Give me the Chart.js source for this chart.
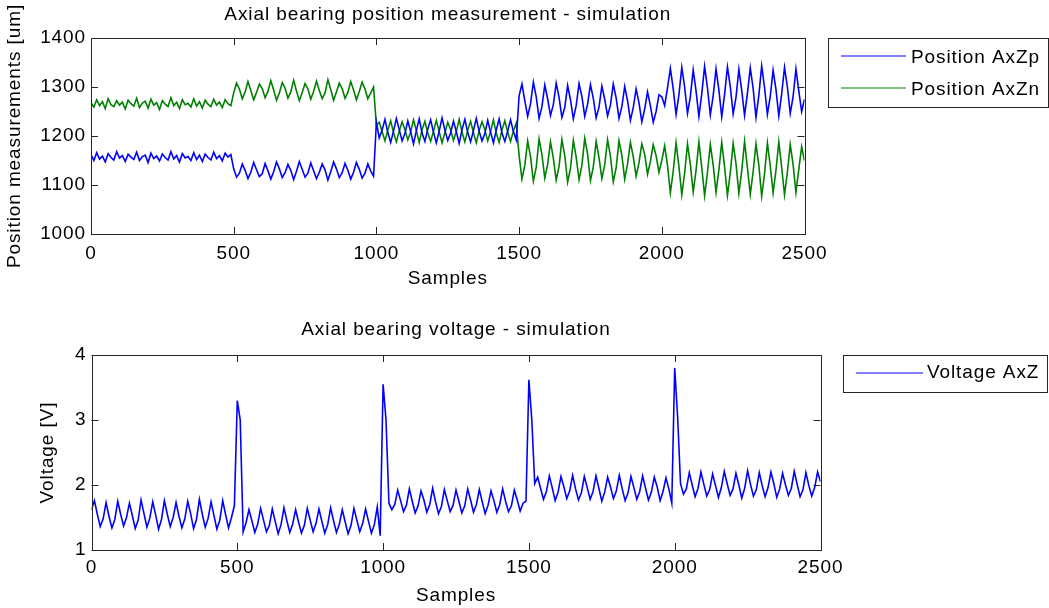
<!DOCTYPE html>
<html>
<head>
<meta charset="utf-8">
<title>Axial bearing simulation</title>
<script src="https://cdn.jsdelivr.net/npm/chart.js@4.4.1/dist/chart.umd.min.js"></script>
<style>
  html, body { margin: 0; padding: 0; background: #fff; }
  #wrap { position: relative; width: 1049px; height: 608px; overflow: hidden; }
  canvas { position: absolute; left: 0; }
  #posChart { top: 0; }
  #voltChart { top: 300px; }
</style>
</head>
<body>
<div id="wrap">
  <canvas id="posChart" width="1049" height="300"></canvas>
  <canvas id="voltChart" width="1049" height="308"></canvas>
</div>
<script>
// Values, one every 10 samples (0..2500)
const posAxZp = [
  // 0-490
  1162,1150,1166,1153,1159,1147,1164,1156,1151,1168,
  1155,1160,1148,1163,1157,1152,1167,1150,1158,1161,
  1146,1165,1154,1159,1149,1163,1156,1151,1168,1153,
  1160,1147,1164,1155,1158,1150,1166,1152,1161,1148,
  1163,1156,1151,1167,1154,1160,1149,1165,1157,1162,
  // 500-990
  1133,1116,1124,1143,1130,1113,1126,1146,1131,1117,
  1123,1144,1129,1112,1127,1147,1133,1115,1125,1142,
  1130,1111,1128,1148,1132,1116,1124,1145,1129,1113,
  1126,1143,1131,1110,1127,1147,1133,1115,1125,1144,
  1130,1112,1126,1146,1132,1114,1124,1143,1129,1118,
  // 1000-1490
  1228,1196,1212,1234,1207,1187,1210,1236,1213,1190,
  1205,1231,1209,1184,1211,1235,1206,1189,1214,1233,
  1208,1186,1210,1237,1212,1191,1206,1230,1209,1185,
  1213,1234,1207,1188,1211,1236,1210,1190,1205,1232,
  1208,1186,1212,1235,1206,1189,1210,1233,1209,1192,
  // 1500-1990
  1282,1306,1272,1240,1266,1310,1280,1236,1260,1304,
  1276,1242,1264,1308,1279,1238,1258,1303,1274,1235,
  1262,1307,1281,1240,1265,1305,1277,1237,1259,1302,
  1275,1241,1263,1306,1278,1236,1260,1301,1272,1232,
  1258,1296,1268,1229,1255,1290,1262,1228,1250,1284,
  // 2000-2500
  1280,1262,1298,1338,1296,1244,1284,1340,1300,1246,
  1280,1335,1292,1240,1286,1342,1298,1243,1282,1337,
  1294,1239,1285,1341,1301,1245,1279,1336,1293,1242,
  1287,1339,1297,1238,1283,1343,1299,1244,1281,1334,
  1295,1241,1286,1340,1300,1246,1280,1337,1292,1250,
  1275
];

const posAxZn = [
  // 0-490
  1268,1259,1274,1262,1270,1256,1276,1264,1260,1272,
  1263,1269,1255,1273,1266,1261,1277,1258,1267,1271,
  1257,1275,1263,1268,1254,1272,1265,1260,1278,1262,
  1269,1256,1274,1264,1267,1259,1276,1261,1270,1257,
  1273,1265,1260,1275,1263,1269,1258,1274,1266,1262,
  // 500-990
  1288,1308,1296,1276,1290,1311,1293,1274,1289,1306,
  1297,1278,1291,1313,1294,1273,1288,1309,1298,1277,
  1290,1314,1292,1272,1289,1307,1296,1275,1291,1312,
  1293,1276,1288,1315,1295,1273,1290,1308,1297,1277,
  1289,1311,1294,1274,1291,1310,1296,1276,1288,1300,
  // 1000-1490
  1222,1228,1209,1190,1212,1231,1207,1188,1210,1229,
  1213,1192,1208,1233,1211,1187,1213,1230,1206,1189,
  1210,1232,1209,1186,1207,1228,1213,1191,1209,1234,
  1208,1188,1212,1230,1207,1186,1211,1229,1213,1190,
  1209,1233,1206,1187,1212,1231,1208,1189,1210,1226,
  // 1500-1990
  1160,1112,1140,1190,1158,1108,1136,1194,1162,1114,
  1142,1188,1155,1110,1138,1193,1160,1106,1134,1191,
  1157,1111,1140,1195,1163,1109,1137,1189,1156,1113,
  1141,1192,1159,1107,1135,1190,1161,1112,1143,1187,
  1158,1118,1145,1184,1163,1122,1148,1182,1160,1126,
  // 2000-2500
  1150,1180,1140,1084,1128,1186,1138,1080,1124,1184,
  1142,1086,1130,1188,1136,1078,1126,1183,1141,1085,
  1131,1187,1137,1079,1125,1185,1143,1083,1129,1189,
  1135,1081,1127,1184,1140,1077,1123,1186,1139,1084,
  1130,1188,1136,1080,1126,1183,1142,1085,1132,1178,
  1150
];

const voltAxZ = [
  // 0-490
  1.62,1.76,1.55,1.36,1.48,1.73,1.52,1.34,1.47,1.75,
  1.55,1.37,1.50,1.72,1.53,1.33,1.46,1.77,1.56,1.35,
  1.49,1.74,1.54,1.32,1.47,1.76,1.55,1.36,1.50,1.73,
  1.52,1.34,1.48,1.75,1.56,1.33,1.47,1.78,1.55,1.35,
  1.49,1.74,1.53,1.32,1.46,1.76,1.54,1.34,1.50,1.68,
  // spike at 500
  3.30,3.00,
  // 520-990
  1.28,1.42,1.62,1.45,1.27,1.40,1.64,1.46,
  1.28,1.38,1.63,1.44,1.25,1.39,1.65,1.45,
  1.27,1.40,1.62,1.43,1.26,1.38,1.64,1.46,
  1.28,1.41,1.63,1.44,1.26,1.39,1.65,1.45,
  1.27,1.40,1.62,1.43,1.25,1.38,1.64,1.46,
  1.28,1.41,1.63,1.44,1.26,1.39,1.66,1.22,
  // spike at 1000
  3.55,3.00,
  // 1020-1490
  1.72,1.62,1.70,1.92,1.76,1.59,1.69,1.94,
  1.75,1.57,1.68,1.91,1.77,1.58,1.70,1.95,
  1.74,1.56,1.67,1.93,1.76,1.59,1.69,1.92,
  1.75,1.57,1.68,1.94,1.77,1.58,1.70,1.93,
  1.74,1.56,1.69,1.91,1.76,1.58,1.70,1.94,
  1.75,1.59,1.68,1.92,1.77,1.60,1.72,1.75,
  // spike at 1500
  3.62,3.00,
  // 1520-1990
  2.02,2.12,1.95,1.78,1.90,2.14,1.96,1.76,
  1.89,2.13,1.97,1.79,1.91,2.15,1.94,1.77,
  1.88,2.13,1.96,1.78,1.90,2.14,1.95,1.75,
  1.89,2.12,1.97,1.79,1.91,2.15,1.94,1.76,
  1.88,2.13,1.96,1.78,1.90,2.14,1.95,1.77,
  1.89,2.12,1.97,1.76,1.90,2.11,1.94,1.72,
  // spike at 2000
  3.80,3.05,
  // 2020-2500
  2.02,1.86,1.94,2.19,2.00,1.82,1.95,2.20,
  2.01,1.83,1.93,2.17,1.99,1.81,1.96,2.21,
  2.02,1.84,1.94,2.18,2.00,1.80,1.95,2.22,
  2.01,1.83,1.93,2.19,1.99,1.82,1.96,2.20,
  2.02,1.81,1.94,2.18,2.00,1.84,1.95,2.21,
  2.01,1.82,1.93,2.19,1.99,1.83,1.96,2.20,
  2.05
];

const sampleStep = 10;
const samples = posAxZp.map((_, i) => i * sampleStep);
const sampleTicks = [0, 500, 1000, 1500, 2000, 2500];
const positionTicks = [1000, 1100, 1200, 1300, 1400];
const voltageTicks = [1, 2, 3, 4];

const FONT = '"Liberation Sans", Arial, sans-serif';
const EDGE = '#262626';
const BLUE = '#0000ff';
const GREEN = '#008000';
const SPACING = '0.9px';
Chart.defaults.font.family = FONT;
Chart.defaults.font.size = 19;
Chart.defaults.font.lineHeight = 1.2;
Chart.defaults.color = '#000';

// MATLAB-ish text is spaced out a little
const spacing = {
  id: 'spacing',
  beforeUpdate(chart) { chart.ctx.letterSpacing = SPACING; },
  beforeDraw(chart) { chart.ctx.letterSpacing = SPACING; }
};

// Box around the axes with inward tick marks on all four sides
const axesBox = {
  id: 'axesBox',
  afterDatasetsDraw(chart) {
    const { ctx, chartArea: a, scales: { x, y } } = chart;
    const len = 7;
    ctx.save();
    ctx.strokeStyle = EDGE;
    ctx.lineWidth = 1;
    ctx.beginPath();
    x.ticks.forEach(t => {
      const px = Math.round(x.getPixelForValue(t.value)) + 0.5;
      ctx.moveTo(px, a.bottom); ctx.lineTo(px, a.bottom - len);
      ctx.moveTo(px, a.top); ctx.lineTo(px, a.top + len);
    });
    y.ticks.forEach(t => {
      const py = Math.round(y.getPixelForValue(t.value)) + 0.5;
      ctx.moveTo(a.left, py); ctx.lineTo(a.left + len, py);
      ctx.moveTo(a.right, py); ctx.lineTo(a.right - len, py);
    });
    ctx.stroke();
    ctx.strokeRect(Math.round(a.left) + 0.5, Math.round(a.top) + 0.5,
      Math.round(a.right - a.left), Math.round(a.bottom - a.top));
    ctx.restore();
  }
};

// Legend in a framed box to the right of the axes
const boxLegend = {
  id: 'boxLegend',
  afterDraw(chart, args, o) {
    const { ctx, chartArea: a } = chart;
    const left = Math.round(a.right + o.gap) + 0.5;
    const top = Math.round(a.top) + 0.5;
    ctx.save();
    ctx.fillStyle = '#fff';
    ctx.fillRect(left, top, o.width, o.height);
    ctx.strokeStyle = EDGE;
    ctx.lineWidth = 1;
    ctx.strokeRect(left, top, o.width, o.height);
    ctx.font = '19px ' + FONT;
    ctx.textBaseline = 'middle';
    ctx.textAlign = 'left';
    chart.data.datasets.forEach((ds, i) => {
      const y = Math.round(top + o.firstRow + i * o.rowGap);
      ctx.strokeStyle = ds.borderColor;
      ctx.lineWidth = 1.2;
      ctx.beginPath();
      ctx.moveTo(left + o.lineStart, y);
      ctx.lineTo(left + o.lineStart + o.lineLen, y);
      ctx.stroke();
      ctx.fillStyle = '#000';
      ctx.fillText(ds.label, left + o.lineStart + o.lineLen + o.textGap, y + o.textDy);
    });
    ctx.restore();
  }
};

const plainNumber = v => String(v);

function sampleAxis(tickPad, titlePad, height) {
  return {
    type: 'linear',
    min: sampleTicks[0],
    max: sampleTicks[sampleTicks.length - 1],
    afterBuildTicks: s => { s.ticks = sampleTicks.map(v => ({ value: v })); },
    afterFit: s => { s.height = height; },
    grid: { display: false, drawTicks: false },
    border: { display: false },
    ticks: { padding: tickPad, maxRotation: 0, autoSkip: false, callback: plainNumber },
    title: { display: true, text: 'Samples', padding: { top: 0, bottom: titlePad } }
  };
}

function valueAxis(ticks, label, tickPad, titlePad, width) {
  return {
    min: ticks[0],
    max: ticks[ticks.length - 1],
    afterBuildTicks: s => { s.ticks = ticks.map(v => ({ value: v })); },
    afterFit: s => { s.width = width; },
    grid: { display: false, drawTicks: false },
    border: { display: false },
    ticks: { padding: tickPad, autoSkip: false, callback: plainNumber },
    title: { display: true, text: label, padding: { top: titlePad, bottom: 0 } }
  };
}

const lineStyle = { pointRadius: 0, borderWidth: 1.6, tension: 0, fill: false };

// Top plot: position measurements
const posChart = new Chart(document.getElementById('posChart'), {
  type: 'line',
  data: {
    labels: samples,
    datasets: [
      { label: 'Position AxZp', data: posAxZp, borderColor: BLUE, ...lineStyle },
      { label: 'Position AxZn', data: posAxZn, borderColor: GREEN, ...lineStyle }
    ]
  },
  options: {
    responsive: false,
    animation: false,
    layout: { padding: { left: 0, right: 244.5, top: 0, bottom: 0 } },
    scales: {
      x: sampleAxis(8, 9.6, 66),
      y: valueAxis(positionTicks, 'Position measurements [um]', 5, 3.6, 91)
    },
    plugins: {
      legend: { display: false },
      tooltip: { enabled: false },
      title: {
        display: true,
        fullSize: false,
        text: 'Axial bearing position measurement - simulation',
        font: { size: 19, weight: 'normal' },
        padding: { top: 3.6, bottom: 11.6 }
      },
      boxLegend: { gap: 23, width: 220, height: 69, firstRow: 17.5, rowGap: 32,
                   lineStart: 12.5, lineLen: 65, textGap: 5, textDy: 2 }
    }
  },
  plugins: [spacing, axesBox, boxLegend]
});

// Bottom plot: bearing voltage
const voltChart = new Chart(document.getElementById('voltChart'), {
  type: 'line',
  data: {
    labels: samples,
    datasets: [
      { label: 'Voltage AxZ', data: voltAxZ, borderColor: BLUE, ...lineStyle }
    ]
  },
  options: {
    responsive: false,
    animation: false,
    layout: { padding: { left: 0, right: 228.5, top: 0, bottom: 0 } },
    scales: {
      x: sampleAxis(6, 0.6, 58),
      y: valueAxis(voltageTicks, 'Voltage [V]', 5, 36.6, 91.5)
    },
    plugins: {
      legend: { display: false },
      tooltip: { enabled: false },
      title: {
        display: true,
        fullSize: false,
        text: 'Axial bearing voltage - simulation',
        font: { size: 19, weight: 'normal' },
        padding: { top: 18.6, bottom: 13.6 }
      },
      boxLegend: { gap: 22, width: 204, height: 37, firstRow: 17.5, rowGap: 32,
                   lineStart: 12.5, lineLen: 67, textGap: 4, textDy: 0 }
    }
  },
  plugins: [spacing, axesBox, boxLegend]
});
</script>
</body>
</html>
